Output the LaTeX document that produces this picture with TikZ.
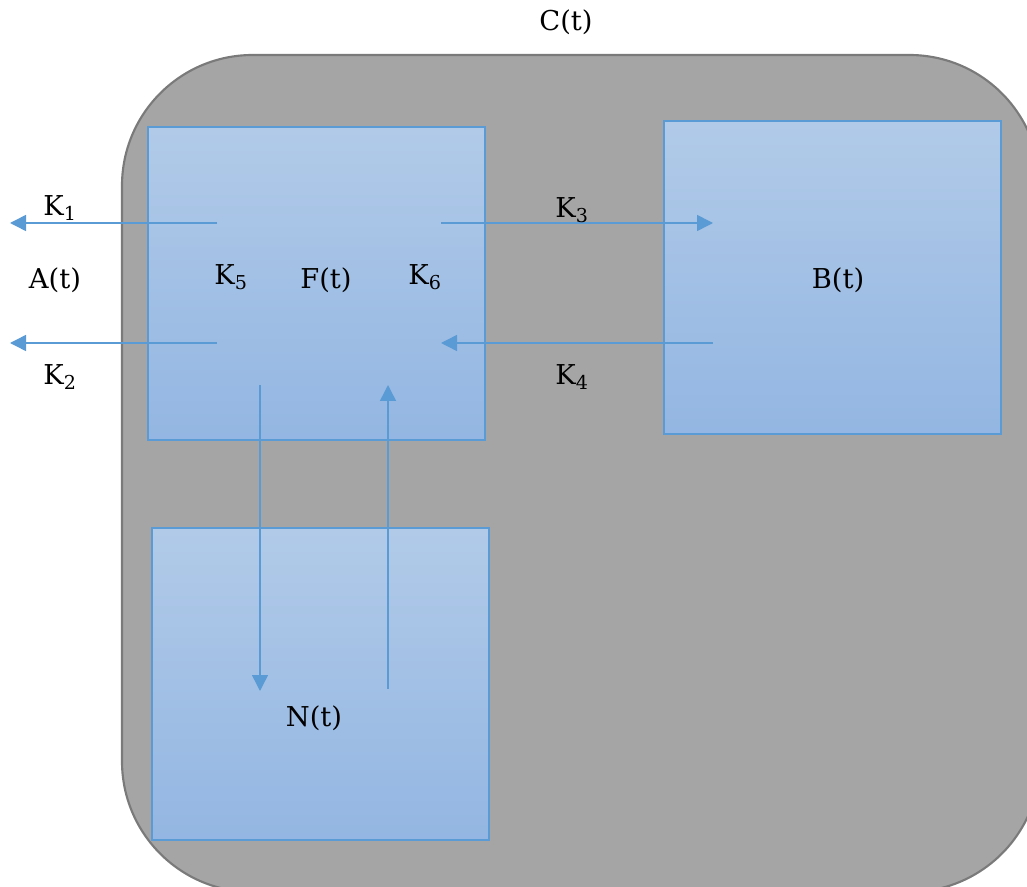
\documentclass[tikz,border=0pt]{standalone}
\usepackage{fontspec}
\setmainfont{DejaVu Serif}
\usetikzlibrary{arrows.meta}
\definecolor{cgray}{HTML}{A5A5A5}
\definecolor{cgrayb}{HTML}{7A7A7A}
\definecolor{ctop}{HTML}{B1CAE8}
\definecolor{cbot}{HTML}{93B6E2}
\definecolor{cblue}{HTML}{5B9BD5}
\tikzset{
  comp/.style={draw=cblue, line width=1.2pt, top color=ctop, bottom color=cbot, anchor=north west, inner sep=0pt, outer sep=0pt},
  flow/.style={draw=cblue, line width=1.1pt, -{Triangle[length=12pt,width=12pt]}},
  lbl/.style={font=\fontsize{20.5}{24}\selectfont, text=black, inner sep=0pt},
}
\begin{document}
\begin{tikzpicture}[x=0.75pt,y=-0.75pt]
\useasboundingbox (0,0) rectangle (1027,887);
\begin{scope}
\clip (0,0) rectangle (1027,887);
\draw[fill=cgray, draw=cgrayb, line width=1.6pt, rounded corners=98pt] (122,55) rectangle (1040,892);
\end{scope}
\node[comp, minimum width=337*0.75pt, minimum height=313*0.75pt] (F) at (148,127) {};
\node[comp, minimum width=337*0.75pt, minimum height=313*0.75pt] (B) at (664,121) {};
\node[comp, minimum width=337*0.75pt, minimum height=312*0.75pt] (N) at (152,528) {};
% arrow endpoints
\coordinate (f1) at (217,223);
\coordinate (a1) at (10,223);
\coordinate (f2) at (217,343);
\coordinate (a2) at (10,343);
\coordinate (f3) at (441,223);
\coordinate (b3) at (713,223);
\coordinate (b4) at (713,343);
\coordinate (f4) at (441,343);
\coordinate (fd) at (260,385);
\coordinate (nd) at (260,691);
\coordinate (nu) at (388,689);
\coordinate (fu) at (388,385);
\draw[flow] (f1) -- (a1);
\draw[flow] (f2) -- (a2);
\draw[flow] (f3) -- (b3);
\draw[flow] (b4) -- (f4);
\draw[flow] (fd) -- (nd);
\draw[flow] (nu) -- (fu);
% labels
\node[lbl] (tC) at (566,22) {C(t)};
\node[lbl] (tA) at (55,280) {A(t)};
\node[lbl] (tF) at (326,280) {F(t)};
\node[lbl] (tB) at (838,280) {B(t)};
\node[lbl] (tN) at (314,718) {N(t)};
\node[lbl] (k1) at (60,208) {K\textsubscript{1}};
\node[lbl] (k2) at (60,377) {K\textsubscript{2}};
\node[lbl] (k3) at (572,210) {K\textsubscript{3}};
\node[lbl] (k4) at (572,377) {K\textsubscript{4}};
\node[lbl] (k5) at (231,277) {K\textsubscript{5}};
\node[lbl] (k6) at (425,277) {K\textsubscript{6}};
\end{tikzpicture}
\end{document}
